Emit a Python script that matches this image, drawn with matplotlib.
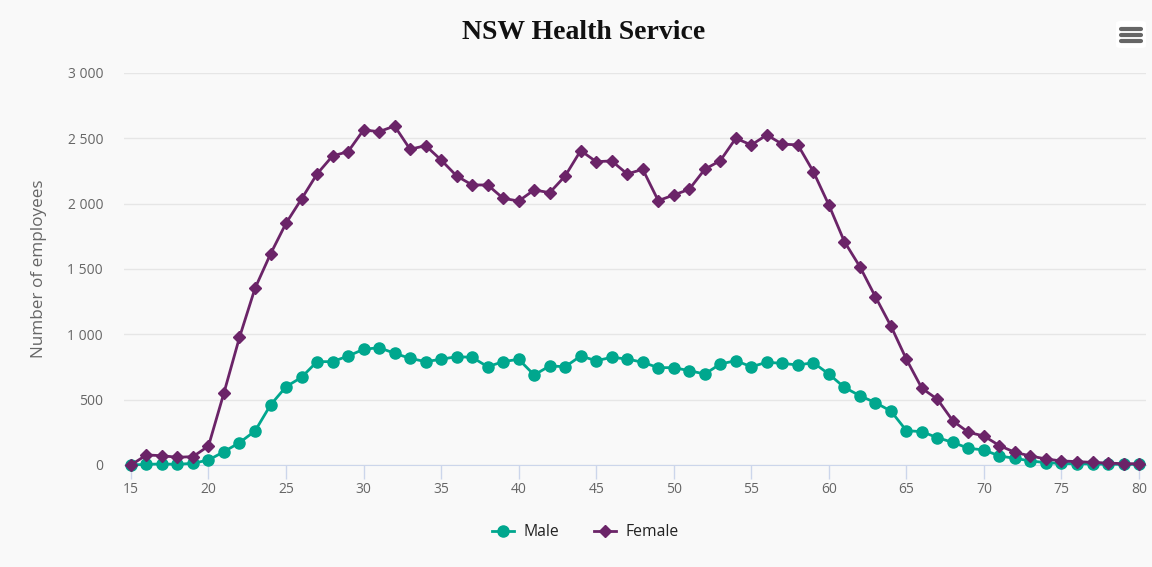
import matplotlib
matplotlib.use("Agg")
import matplotlib.pyplot as plt
from matplotlib.patches import FancyBboxPatch
from matplotlib.ticker import FuncFormatter
import numpy as np

ages = list(range(15, 81))
male = [0, 5, 8, 5, 13, 38, 102, 171, 260, 459, 599, 671, 791, 791, 834, 885, 898, 855, 816, 791,
        809, 829, 824, 752, 791, 809, 689, 758, 752, 834, 798, 824, 811, 786, 745, 745, 722, 696,
        773, 798, 752, 786, 778, 765, 783, 696, 594, 530, 477, 413, 263, 255, 209, 173, 128, 115,
        69, 51, 31, 18, 12, 10, 8, 6, 5, 5]
female = [0, 77, 71, 59, 64, 145, 553, 977, 1352, 1615, 1850, 2036, 2227, 2365, 2398, 2564, 2551,
          2594, 2416, 2444, 2334, 2212, 2143, 2143, 2041, 2020, 2105, 2084, 2212, 2406, 2321, 2327,
          2227, 2263, 2023, 2066, 2110, 2263, 2329, 2500, 2449, 2526, 2455, 2450, 2245, 1990, 1710,
          1518, 1288, 1064, 809, 587, 503, 337, 250, 222, 148, 97, 69, 46, 31, 26, 20, 15, 10, 10]

male_color = "#00a78e"
female_color = "#6b2468"
bg = "#f9f9f9"
txt = "#666666"

plt.rcParams['font.family'] = ['Open Sans', 'DejaVu Sans']

fig = plt.figure(figsize=(11.52, 5.67), dpi=100, facecolor=bg)
ax = fig.add_axes([0.1076, 0.1799, 0.8872, 0.6914])
ax.set_facecolor(bg)

ax.plot(ages, male, color=male_color, lw=2, marker="o", ms=8, label="Male", zorder=3, clip_on=False)
ax.plot(ages, female, color=female_color, lw=2, marker="D", ms=6, label="Female", zorder=3, clip_on=False)

ax.set_xlim(14.55, 80.45)
ax.set_ylim(0, 3000)
ax.set_xticks(range(15, 81, 5))
ax.set_yticks(range(0, 3001, 500))
ax.yaxis.set_major_formatter(FuncFormatter(lambda v, p: f"{int(v):,}".replace(",", " ")))
ax.grid(axis="y", color="#e6e6e6", lw=1)
ax.set_axisbelow(True)
for s in ["top", "right", "left"]:
    ax.spines[s].set_visible(False)
ax.spines["bottom"].set_color("#ccd6eb")
ax.tick_params(axis="x", colors="#ccd6eb", length=10, width=1, labelcolor=txt, labelsize=10, pad=2)
ax.tick_params(axis="y", length=0, labelcolor=txt, labelsize=10, pad=15)
ax.set_ylabel("Number of employees", color=txt, fontsize=12.3)
ax.yaxis.set_label_coords(-0.075, 0.5)

fig.text(0.507, 0.943, "NSW Health Service", ha="center", va="center", fontsize=20,
         fontweight="bold", family=["Liberation Serif"], color="#111111")

fig.legend(loc="center", bbox_to_anchor=(0.508, 0.061), ncol=2, frameon=False, fontsize=11.3,
           handlelength=1.4, columnspacing=2.2, handletextpad=0.6, labelcolor="#222222")

# menu button
fig.patches.append(FancyBboxPatch((1116 / 1152, 1 - 48 / 567), 30 / 1152, 27 / 567,
                                  boxstyle="round,pad=0,rounding_size=0.004", transform=fig.transFigure,
                                  facecolor="white", edgecolor="none"))
for yy in [29, 35, 41]:
    fig.add_artist(plt.Line2D([1121 / 1152, 1141 / 1152], [1 - yy / 567] * 2, color="#666666",
                              lw=3, solid_capstyle="round", transform=fig.transFigure))

fig.savefig("out.png", dpi=100, facecolor=bg)
